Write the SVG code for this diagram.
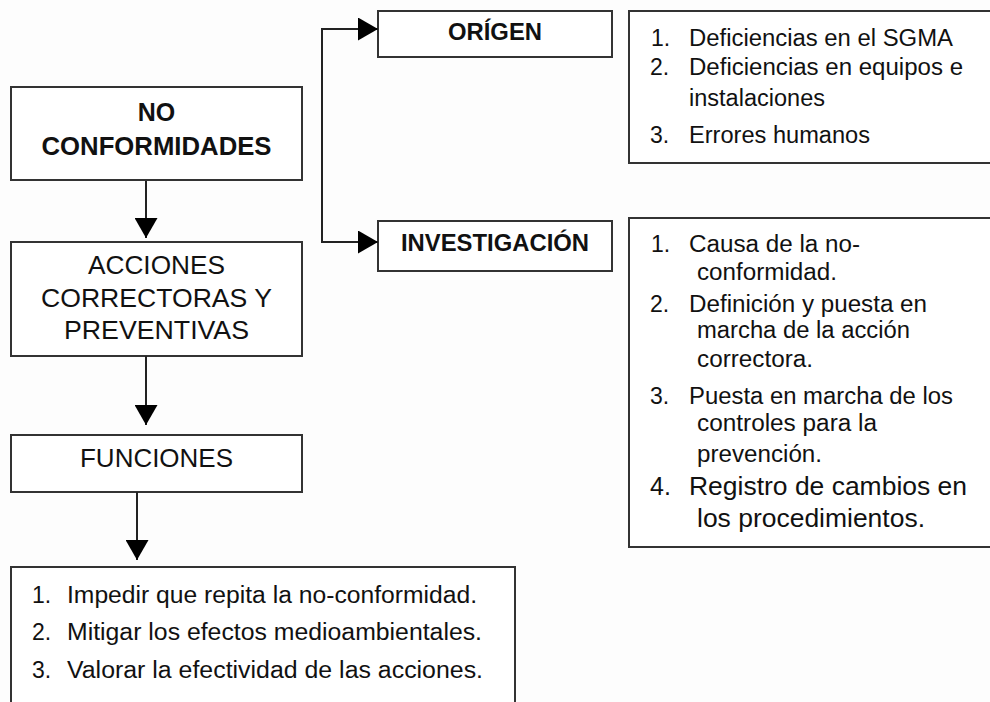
<svg xmlns="http://www.w3.org/2000/svg" width="990" height="702" viewBox="0 0 990 702">
<defs>
<marker id="ah" viewBox="0 0 20 23" refX="20" refY="11.5" markerWidth="20" markerHeight="23" markerUnits="userSpaceOnUse" orient="auto">
<path d="M0,0 L20,11.5 L0,23 Z" fill="#000"/>
</marker>
<style>
.box{fill:#fff;stroke:#333;stroke-width:2}
.con{fill:none;stroke:#222;stroke-width:2}
text{font-family:"Liberation Sans",Arial,sans-serif;fill:#111}
.b{font-weight:bold;font-size:25px}
.m{font-size:26px}
.l{font-size:23px}
.c{text-anchor:middle}
</style>
</defs>
<rect width="990" height="702" fill="#fdfdfd"/>
<g id="no-conformidades">
<rect class="box" x="11" y="87" width="291" height="93"/>
<text class="b c" x="156.5" y="121">NO</text>
<text class="b c" x="156.5" y="155" textLength="230" lengthAdjust="spacingAndGlyphs">CONFORMIDADES</text>
</g>
<g id="acciones">
<rect class="box" x="11" y="242" width="291" height="114"/>
<text class="m c" x="156.5" y="274" textLength="137" lengthAdjust="spacingAndGlyphs">ACCIONES</text>
<text class="m c" x="156.5" y="307" textLength="231" lengthAdjust="spacingAndGlyphs">CORRECTORAS Y</text>
<text class="m c" x="156.5" y="339" textLength="185" lengthAdjust="spacingAndGlyphs">PREVENTIVAS</text>
</g>
<g id="funciones">
<rect class="box" x="11" y="435" width="291" height="57"/>
<text class="m c" x="156.5" y="467" textLength="153" lengthAdjust="spacingAndGlyphs">FUNCIONES</text>
</g>
<g id="funciones-list">
<rect class="box" x="11" y="567" width="504" height="150"/>
<text class="l" x="32" y="603">1.</text>
<text class="l" x="67" y="603" textLength="410" lengthAdjust="spacingAndGlyphs">Impedir que repita la no-conformidad.</text>
<text class="l" x="32" y="640">2.</text>
<text class="l" x="67" y="640" textLength="415" lengthAdjust="spacingAndGlyphs">Mitigar los efectos medioambientales.</text>
<text class="l" x="32" y="678">3.</text>
<text class="l" x="67" y="678" textLength="416" lengthAdjust="spacingAndGlyphs">Valorar la efectividad de las acciones.</text>
</g>
<g id="origen">
<rect class="box" x="378" y="11" width="234" height="46"/>
<text class="b c" x="495" y="40" style="font-size:23px" textLength="94" lengthAdjust="spacingAndGlyphs">ORÍGEN</text>
</g>
<g id="investigacion">
<rect class="box" x="378" y="221" width="234" height="50"/>
<text class="b c" x="495" y="251" style="font-size:23px" textLength="188" lengthAdjust="spacingAndGlyphs">INVESTIGACIÓN</text>
</g>
<g id="origen-list">
<rect class="box" x="629" y="11" width="380" height="152"/>
<text class="l" x="651" y="46">1.</text>
<text class="l" x="689" y="46" textLength="264" lengthAdjust="spacingAndGlyphs">Deficiencias en el SGMA</text>
<text class="l" x="650" y="75">2.</text>
<text class="l" x="689" y="75" textLength="274" lengthAdjust="spacingAndGlyphs">Deficiencias en equipos e</text>
<text class="l" x="689" y="106" textLength="136" lengthAdjust="spacingAndGlyphs">instalaciones</text>
<text class="l" x="650" y="143">3.</text>
<text class="l" x="689" y="143" textLength="181" lengthAdjust="spacingAndGlyphs">Errores humanos</text>
</g>
<g id="investigacion-list">
<rect class="box" x="629" y="218" width="380" height="329"/>
<text class="l" x="651" y="252">1.</text>
<text class="l" x="689" y="252" textLength="171" lengthAdjust="spacingAndGlyphs">Causa de la no-</text>
<text class="l" x="697" y="280" textLength="140" lengthAdjust="spacingAndGlyphs">conformidad.</text>
<text class="l" x="650" y="312">2.</text>
<text class="l" x="689" y="312" textLength="238" lengthAdjust="spacingAndGlyphs">Definición y puesta en</text>
<text class="l" x="697" y="338" textLength="213" lengthAdjust="spacingAndGlyphs">marcha de la acción</text>
<text class="l" x="697" y="367" textLength="116" lengthAdjust="spacingAndGlyphs">correctora.</text>
<text class="l" x="650" y="404">3.</text>
<text class="l" x="689" y="404" textLength="264" lengthAdjust="spacingAndGlyphs">Puesta en marcha de los</text>
<text class="l" x="697" y="431" textLength="180" lengthAdjust="spacingAndGlyphs">controles para la</text>
<text class="l" x="697" y="462" textLength="125" lengthAdjust="spacingAndGlyphs">prevención.</text>
<text class="l" x="650" y="495" style="font-size:25px">4.</text>
<text class="l" x="689" y="495" style="font-size:25px" textLength="278" lengthAdjust="spacingAndGlyphs">Registro de cambios en</text>
<text class="l" x="697" y="527" style="font-size:25px" textLength="228" lengthAdjust="spacingAndGlyphs">los procedimientos.</text>
</g>
<g id="connectors">
<path class="con" d="M146,181 V238" marker-end="url(#ah)"/>
<path class="con" d="M146,356 V425" marker-end="url(#ah)"/>
<path class="con" d="M137,492 V560" marker-end="url(#ah)"/>
<path class="con" d="M322,29 V242"/>
<path class="con" d="M321,29 H378" marker-end="url(#ah)"/>
<path class="con" d="M321,242 H378" marker-end="url(#ah)"/>
</g>
</svg>
